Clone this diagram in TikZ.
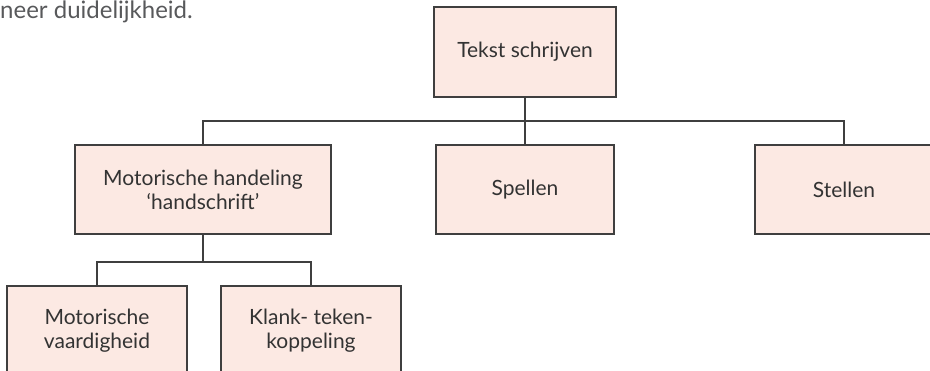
\documentclass[tikz,border=0pt]{standalone}
\usepackage{fontspec}
\setmainfont{Lato}
\usepackage{tikz}
\usetikzlibrary{positioning}
\definecolor{boxfill}{HTML}{FCE9E3}
\definecolor{boxline}{HTML}{3F3F3F}
\definecolor{txtgray}{HTML}{333333}
\definecolor{introgray}{HTML}{58595B}

\begin{document}
\begin{tikzpicture}[
		x=1pt, y=-1pt,
		blok/.style={rectangle, draw=boxline, fill=boxfill, line width=1.2pt, text=txtgray,
			font=\fontsize{21}{24}\selectfont, align=center, minimum height=90pt, inner sep=0pt},
		tak/.style={draw=boxline, line width=1.2pt}
		]
		\useasboundingbox (0,0) rectangle (930,371);
		
		% Inleidende tekst
		\node[anchor=base west, inner sep=0pt, text=introgray, font=\fontsize{24}{28}\selectfont] (intro) at (0,19) {neer duidelijkheid.};
		
		% De blokken
		\node[blok, minimum width=182pt] (tekst) at (525,52) {Tekst schrijven};
		\node[blok, minimum width=256pt, minimum height=89pt] (motor) at (203,189.5) {Motorische handeling\\ `handschrift'};
		\node[blok, minimum width=178pt, minimum height=89pt] (spel) at (525,189.5) {Spellen};
		\node[blok, minimum width=178pt, minimum height=89pt] (stel) at (844,189.5) {Stellen};
		\node[blok, minimum width=180pt] (vaard) at (97,331) {Motorische\\ vaardigheid};
		\node[blok, minimum width=180pt] (klank) at (311,331) {Klank- teken-\\ koppeling};
		
		% Splitsingen
		\coordinate (split1) at (525,121);
		\coordinate (split2) at (203,262);
		
		% De verbindingen
		\draw[tak] (tekst.south) -- (spel.north);
		\draw[tak] (motor.north) |- (split1) -| (stel.north);
		\draw[tak] (motor.south) -- (split2);
		\draw[tak] (vaard.north) |- (split2) -| (klank.north);
	\end{tikzpicture}
\end{document}
